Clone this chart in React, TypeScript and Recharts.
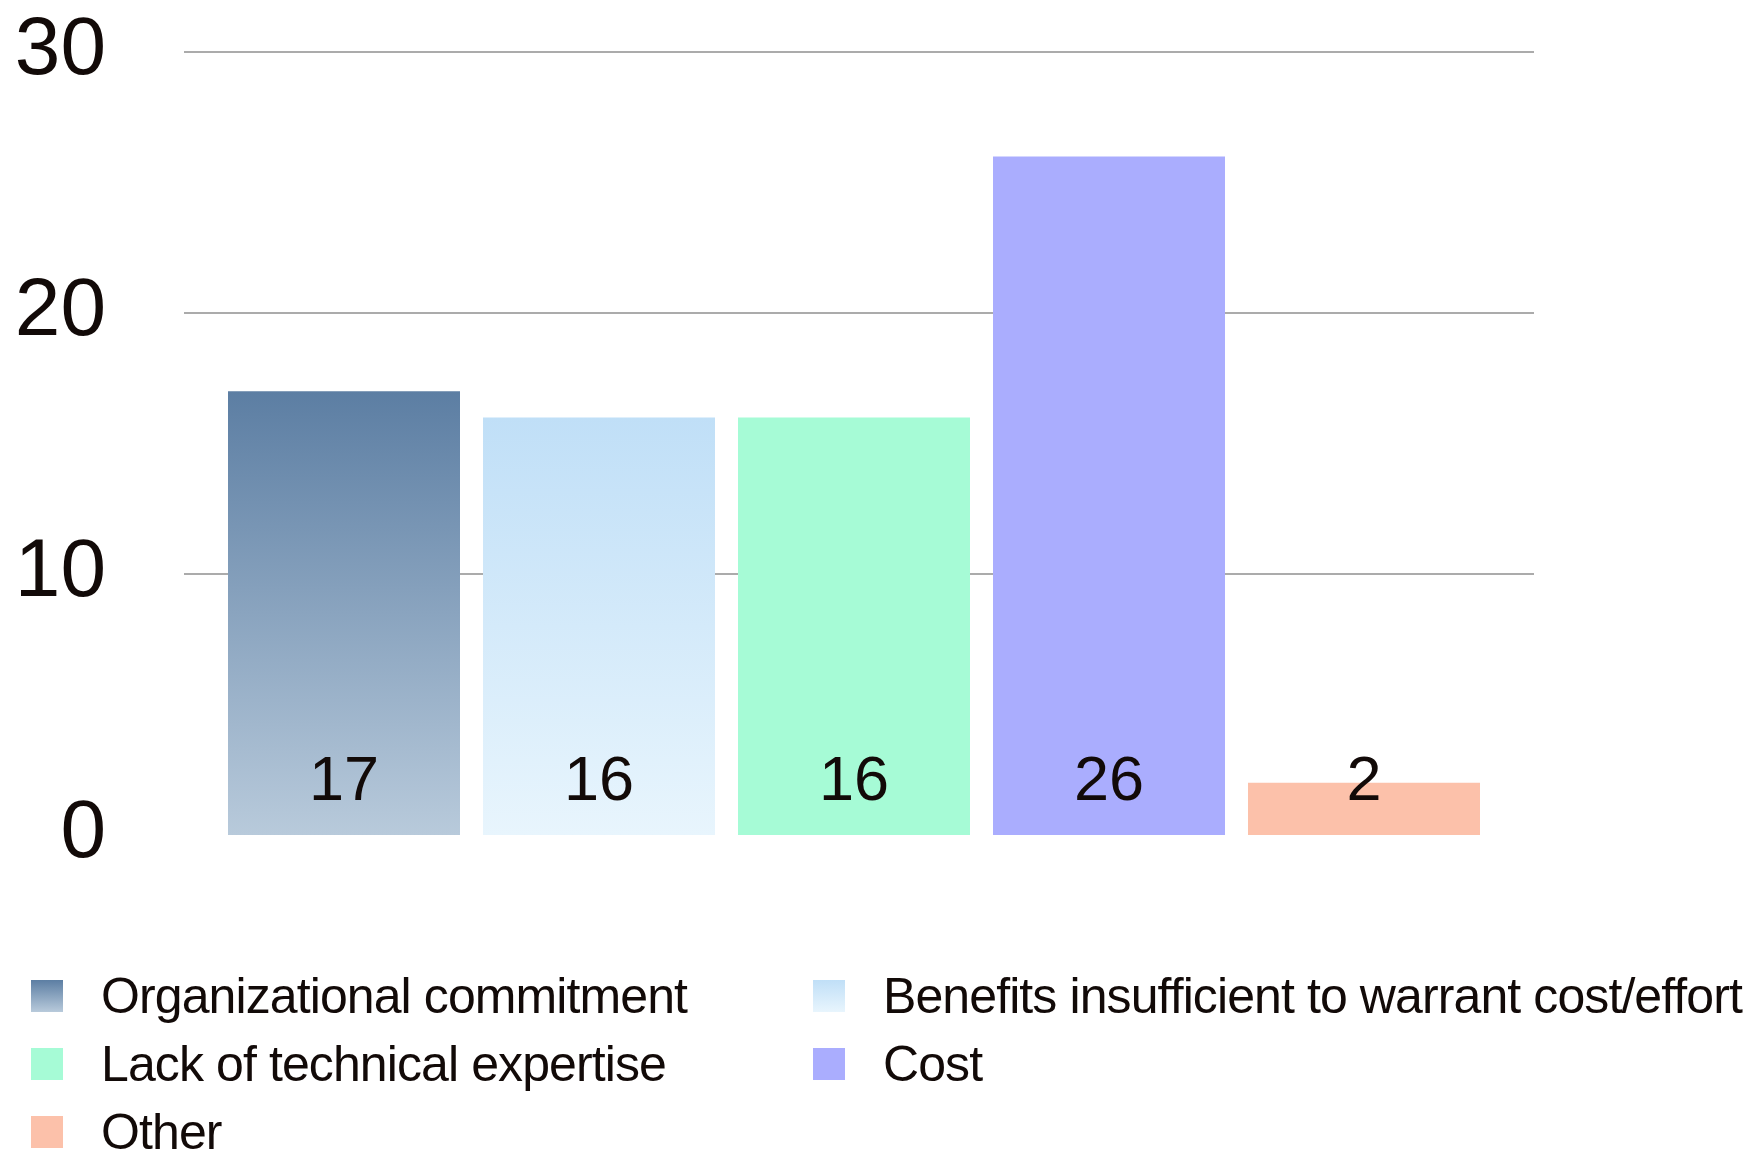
import { BarChart, Bar, XAxis, YAxis, CartesianGrid, LabelList } from 'recharts';

const CATEGORIES = ['Barriers'];
const SERIES_NAMES = [
  'Organizational commitment',
  'Benefits insufficient to warrant cost/effort',
  'Lack of technical expertise',
  'Cost',
  'Other',
];
const SERIES_VALUES = [17, 16, 16, 26, 2];
const Y_TICKS = [0, 10, 20, 30];
const GRID_VALUES = [10, 20, 30];

// top / bottom colours of each series fill (same colour twice = flat)
const SERIES_TOP = ['#5c7ea3', '#c0dff7', '#a6fbd6', '#aaadfe', '#fcc1aa'];
const SERIES_BOTTOM = ['#b8cadb', '#e8f5fd', '#a6fbd6', '#aaadfe', '#fcc1aa'];

const FONT = '"Liberation Sans", Arial, Helvetica, sans-serif';
const TEXT = '#120a08';

const data = CATEGORIES.map((name) => {
  const row: Record<string, string | number> = { name };
  SERIES_VALUES.forEach((v, i) => {
    row[`s${i}`] = v;
  });
  return row;
});

function YTick(props: any) {
  const { y, payload } = props;
  return (
    <text x={106} y={y} dy={22} textAnchor="end" fontSize={82} fontFamily={FONT} fill={TEXT}>
      {payload.value}
    </text>
  );
}

function ValueLabel(props: any) {
  const { x, y, width, height, value } = props;
  const bottom = Number(y) + Number(height);
  return (
    <text
      x={Number(x) + Number(width) / 2}
      y={bottom - 35}
      textAnchor="middle"
      fontSize={63}
      fontFamily={FONT}
      fill={TEXT}
    >
      {value}
    </text>
  );
}

function Swatch({ i }: { i: number }) {
  return (
    <svg width={32} height={32} style={{ display: 'block', flex: 'none' }}>
      <defs>
        <linearGradient id={`lg${i}`} x1="0" y1="0" x2="0" y2="1">
          <stop offset="0%" stopColor={SERIES_TOP[i]} />
          <stop offset="100%" stopColor={SERIES_BOTTOM[i]} />
        </linearGradient>
      </defs>
      <rect width={32} height={32} fill={`url(#lg${i})`} />
    </svg>
  );
}

export default function App() {
  return (
    <div style={{ position: 'absolute', left: 0, top: 0, width: 1753, height: 1161, background: '#fff', overflow: 'hidden' }}>
      <BarChart
        width={1753}
        height={1161}
        data={data}
        margin={{ top: 52, right: 219, bottom: 326, left: 0 }}
        barCategoryGap={44}
        barGap={23}
      >
        <defs>
          {SERIES_TOP.map((c, i) => (
            <linearGradient key={i} id={`bg${i}`} x1="0" y1="0" x2="0" y2="1">
              <stop offset="0%" stopColor={c} />
              <stop offset="100%" stopColor={SERIES_BOTTOM[i]} />
            </linearGradient>
          ))}
        </defs>
        <CartesianGrid vertical={false} horizontalValues={GRID_VALUES} stroke="#ababab" strokeWidth={2} />
        <XAxis dataKey="name" hide padding={{ left: 0, right: 10 }} />
        <YAxis
          domain={[0, 30]}
          ticks={Y_TICKS}
          width={184}
          axisLine={false}
          tickLine={false}
          tick={YTick}
        />
        {SERIES_NAMES.map((n, i) => (
          <Bar key={n} dataKey={`s${i}`} name={n} fill={`url(#bg${i})`} isAnimationActive={false}>
            <LabelList dataKey={`s${i}`} content={ValueLabel} />
          </Bar>
        ))}
      </BarChart>
      <div
        style={{
          position: 'absolute',
          left: 31,
          top: 962,
          display: 'grid',
          gridTemplateColumns: '782px auto',
          gridAutoRows: '68px',
          fontFamily: FONT,
          fontSize: 50,
          letterSpacing: -0.9,
          color: TEXT,
        }}
      >
        {SERIES_NAMES.map((n, i) => (
          <div key={n} style={{ display: 'flex', alignItems: 'center', whiteSpace: 'nowrap' }}>
            <Swatch i={i} />
            <span style={{ marginLeft: 38, lineHeight: 0.76 }}>{n}</span>
          </div>
        ))}
      </div>
    </div>
  );
}
